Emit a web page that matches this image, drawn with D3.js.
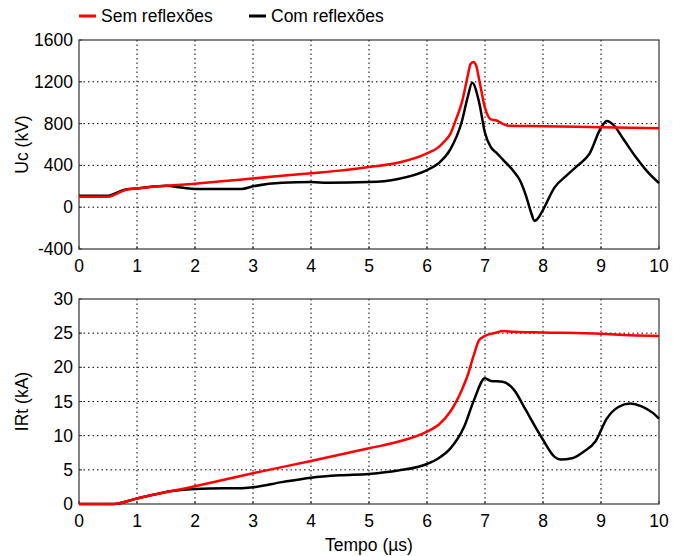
<!DOCTYPE html>
<html>
<head>
<meta charset="utf-8">
<script src="https://cdn.jsdelivr.net/npm/d3@7"></script>
<style>
  body { margin: 0; background: #fff; }
  text { font-family: "Liberation Sans", Arial, sans-serif; font-size: 17.5px; fill: #000; }
  .grid line { stroke: #000; stroke-dasharray: 1.5,3; stroke-width: 1; }
</style>
</head>
<body>
<div class="chart"></div>
<script>

// time axis (us)
var xTicks = [0, 1, 2, 3, 4, 5, 6, 7, 8, 9, 10];
var ucTicks = [-400, 0, 400, 800, 1200, 1600];
var irTicks = [0, 5, 10, 15, 20, 25, 30];

var seriesNames = ["Sem reflexões", "Com reflexões"];
var seriesColors = ["#ff0000", "#000000"];

// Uc (kV) - sem reflexoes
var ucSemT = [0, 0.5, 0.8, 1, 1.5, 2, 3, 4, 4.5, 5, 5.5, 6, 6.2, 6.3, 6.4, 6.5, 6.6, 6.7, 6.75, 6.8, 6.85, 6.9, 7.0, 7.1, 7.2, 7.3, 7.4, 8, 9, 10];
var ucSemV = [100, 100, 165, 180, 205, 225, 275, 325, 350, 385, 425, 515, 575, 630, 700, 840, 1000, 1250, 1370, 1390, 1350, 1220, 950, 840, 830, 800, 780, 775, 765, 755];

// Uc (kV) - com reflexoes
var ucComT = [0, 0.5, 0.8, 1, 1.5, 1.8, 2, 2.5, 2.8, 3, 3.5, 4, 4.3, 5, 5.5, 6, 6.2, 6.4, 6.6, 6.7, 6.78, 6.9, 7.0, 7.1, 7.2, 7.3, 7.5, 7.6, 7.7, 7.8, 7.85, 7.9, 8.0, 8.2, 8.4, 8.6, 8.8, 9.0, 9.1, 9.2, 9.4, 9.6, 9.8, 10];
var ucComV = [110, 110, 170, 180, 205, 185, 175, 175, 175, 200, 235, 240, 235, 240, 270, 355, 420, 550, 820, 1050, 1190, 1000, 710, 575, 520, 460, 340, 260, 120, -60, -130, -115, -25, 190, 300, 400, 510, 760, 825, 795, 640, 480, 340, 230];

// IRt (kA) - sem reflexoes
var irSemT = [0, 0.6, 1, 2, 3, 4, 5, 5.5, 6, 6.2, 6.4, 6.6, 6.7, 6.8, 6.9, 7.0, 7.1, 7.2, 7.3, 7.5, 8, 9, 9.5, 10];
var irSemV = [0, 0, 0.8, 2.6, 4.5, 6.3, 8.15, 9.1, 10.6, 11.6, 13.5, 16.7, 18.8, 21.6, 24.0, 24.6, 24.9, 25.1, 25.3, 25.2, 25.1, 24.9, 24.7, 24.6];

// IRt (kA) - com reflexoes
var irComT = [0, 0.6, 1, 1.6, 2, 2.5, 2.8, 3, 3.5, 4, 4.5, 5, 5.5, 6, 6.2, 6.4, 6.64, 6.81, 7.0, 7.1, 7.3, 7.5, 7.7, 7.9, 8.0, 8.2, 8.3, 8.5, 8.7, 8.9, 9.1, 9.3, 9.5, 9.7, 9.9, 10];
var irComV = [0, 0, 0.8, 1.9, 2.2, 2.3, 2.3, 2.45, 3.2, 3.85, 4.2, 4.4, 4.9, 5.85, 6.7, 8.1, 11.3, 15.2, 18.4, 18.0, 17.9, 16.7, 13.8, 10.8, 9.4, 6.9, 6.5, 6.7, 7.65, 9.1, 12.5, 14.2, 14.7, 14.3, 13.3, 12.5];

var svgWidth = 681, svgHeight = 556;
var svg = d3.select(".chart").append("svg")
    .attr("width", svgWidth)
    .attr("height", svgHeight);

var x = d3.scaleLinear().domain([0, 10]).range([79, 659]);

function zip(ts, vs) {
    return ts.map((t, i) => ({t: t, v: vs[i]}));
}

function panel(y, yTicks, label, series, labelX) {
    var top = y.range()[1], bottom = y.range()[0];
    var g = svg.append("g");

    // grid
    var grid = g.append("g").attr("class", "grid");
    grid.selectAll(".vx").data(xTicks.slice(1, -1)).enter().append("line")
        .attr("x1", d => x(d)).attr("x2", d => x(d))
        .attr("y1", top).attr("y2", bottom);
    grid.selectAll(".hy").data(yTicks.slice(1, -1)).enter().append("line")
        .attr("x1", x(0)).attr("x2", x(10))
        .attr("y1", d => y(d)).attr("y2", d => y(d));

    // frame
    g.append("rect")
        .attr("x", x(0)).attr("y", top)
        .attr("width", x(10) - x(0)).attr("height", bottom - top)
        .attr("fill", "none").attr("stroke", "#333").attr("stroke-width", 1.2);

    // ticks inside
    g.selectAll(".tx").data(xTicks).enter().append("line")
        .attr("x1", d => x(d)).attr("x2", d => x(d))
        .attr("y1", bottom).attr("y2", bottom - 3)
        .attr("stroke", "#333");
    g.selectAll(".ty").data(yTicks).enter().append("line")
        .attr("x1", x(0)).attr("x2", x(0) + 3)
        .attr("y1", d => y(d)).attr("y2", d => y(d))
        .attr("stroke", "#333");

    // tick labels
    g.selectAll(".lx").data(xTicks).enter().append("text")
        .attr("x", d => x(d))
        .attr("y", bottom + 23)
        .attr("text-anchor", "middle")
        .text(d => d);
    g.selectAll(".ly").data(yTicks).enter().append("text")
        .attr("x", x(0) - 6)
        .attr("y", d => y(d) + 6)
        .attr("text-anchor", "end")
        .text(d => d);

    // y label
    g.append("text")
        .attr("transform", "translate(" + labelX + "," + ((top + bottom) / 2) + ") rotate(-90)")
        .attr("text-anchor", "middle")
        .text(label);

    // lines
    var line = d3.line()
        .x(d => x(d.t))
        .y(d => y(d.v))
        .curve(d3.curveMonotoneX);

    // black (com) underneath, red (sem) on top
    [1, 0].forEach(i => {
        g.append("path")
            .datum(series[i])
            .attr("d", line)
            .attr("fill", "none")
            .attr("stroke", seriesColors[i])
            .attr("stroke-width", 2.5)
            .attr("stroke-linejoin", "round");
    });
}

var yUc = d3.scaleLinear().domain([-400, 1600]).range([249, 40]);
var yIr = d3.scaleLinear().domain([0, 30]).range([504, 299]);

panel(yUc, ucTicks, "Uc (kV)", [zip(ucSemT, ucSemV), zip(ucComT, ucComV)], 28);
panel(yIr, irTicks, "IRt (kA)", [zip(irSemT, irSemV), zip(irComT, irComV)], 28);

// x label
svg.append("text")
    .attr("x", x(5))
    .attr("y", 551)
    .attr("text-anchor", "middle")
    .text("Tempo (µs)");

// legend
var legendX = [79, 249];
seriesNames.forEach((name, i) => {
    svg.append("line")
        .attr("x1", legendX[i]).attr("x2", legendX[i] + 17)
        .attr("y1", 16).attr("y2", 16)
        .attr("stroke", seriesColors[i])
        .attr("stroke-width", 3);
    svg.append("text")
        .attr("x", legendX[i] + 22)
        .attr("y", 22)
        .text(name);
});
</script>
</body>
</html>
